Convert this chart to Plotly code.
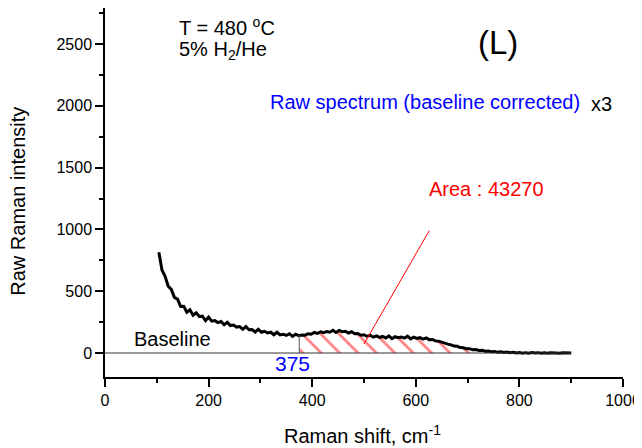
import plotly.graph_objects as go

# Raman spectrum (baseline corrected, x3)
shift = [104, 110, 116, 122, 128, 134, 140, 146, 152, 158, 164, 170, 176, 182, 188, 194,
         200, 206, 212, 218, 224, 230, 236, 242, 248, 254, 260, 266, 272, 278, 284, 290,
         296, 302, 308, 314, 320, 326, 332, 338, 344, 350, 356, 362, 368, 374, 380, 386,
         392, 398, 404, 410, 416, 422, 428, 434, 440, 446, 452, 458, 464, 470, 476, 482,
         488, 494, 500, 506, 512, 518, 524, 530, 536, 542, 548, 554, 560, 566, 572, 578,
         584, 590, 596, 602, 608, 614, 620, 626, 632, 638, 644, 650, 656, 662, 668, 674,
         680, 686, 692, 698, 704, 710, 716, 722, 728, 734, 740, 746, 752, 758, 764, 770,
         776, 782, 788, 794, 800, 806, 812, 818, 824, 830, 836, 842, 848, 854, 860, 866,
         872, 878, 884, 890, 896, 900]
intensity = [815, 672, 620, 540, 515, 450, 436, 376, 378, 330, 350, 306, 326, 296, 298, 262,
             290, 258, 262, 246, 255, 228, 248, 222, 226, 210, 214, 192, 214, 188, 190, 170,
             192, 168, 176, 162, 168, 148, 168, 146, 152, 142, 156, 134, 152, 140, 146, 144,
             156, 152, 166, 158, 172, 164, 174, 168, 184, 166, 182, 172, 176, 162, 172, 156,
             158, 144, 148, 134, 144, 128, 138, 126, 134, 122, 138, 116, 132, 124, 130, 120,
             136, 114, 128, 118, 124, 112, 122, 108, 110, 98, 96, 86, 82, 72, 66, 56,
             54, 44, 42, 34, 35, 26, 28, 20, 22, 15, 17, 11, 13, 7, 10, 5,
             8, 2, 6, 0, 4, -2, 3, -1, 4, 0, 3, -2, 2, -1, 3, 0,
             2, -1, 3, 0, 2, 0]

area_start = 375
area_start_y = 145
area_label = "Area : 43270"

area_x = [area_start] + [s for s in shift if s > area_start]
area_y = [area_start_y] + [v for s, v in zip(shift, intensity) if s > area_start]

FONT = "Arial, Liberation Sans, sans-serif"

fig = go.Figure()

# hatched integrated area
fig.add_trace(go.Scatter(x=area_x, y=area_y, mode="lines", line=dict(width=0),
                         fill="tozeroy", fillcolor="rgba(0,0,0,0)",
                         fillpattern=dict(shape="\\", fgcolor="red", size=13, solidity=0.2),
                         showlegend=False, hoverinfo="skip"))

# spectrum
fig.add_trace(go.Scatter(x=shift, y=intensity, mode="lines",
                         line=dict(color="black", width=3), showlegend=False))

# baseline and markers
fig.add_shape(type="line", x0=0, x1=900, y0=0, y1=0, line=dict(color="#333333", width=1))
fig.add_shape(type="line", x0=area_start, x1=area_start, y0=0, y1=area_start_y,
              line=dict(color="#555555", width=1))
fig.add_shape(type="line", x0=500, x1=626, y0=73, y1=990, line=dict(color="red", width=1))

def note(x, y, text, color="black", size=20, xanchor="left"):
    fig.add_annotation(x=x, y=y, text=text, showarrow=False, xanchor=xanchor, yanchor="middle",
                       font=dict(family=FONT, size=size, color=color))

note(139, 2645, "T = 480 <sup>o</sup>C")
note(139, 2444, "5% H<sub>2</sub>/He")
note(759, 2508, "(L)", size=33, xanchor="center")
note(314, 2032, "Raw spectrum (baseline corrected)", color="blue")
note(935, 2016, "x3")
note(622, 1323, area_label, color="red")
note(53, 113, "Baseline")
note(361, -81, str(area_start), color="blue", size=21, xanchor="center")

# axis titles placed as annotations
fig.add_annotation(xref="paper", x=0, xshift=-87, y=1224, text="Raw Raman intensity",
                   textangle=-90, showarrow=False, xanchor="center", yanchor="middle",
                   font=dict(family=FONT, size=20, color="black"))
fig.add_annotation(x=497, yref="paper", y=0, yshift=-57, text="Raman shift, cm<sup>-1</sup>",
                   showarrow=False, xanchor="center", yanchor="middle",
                   font=dict(family=FONT, size=20, color="black"))

axis_common = dict(showline=True, linecolor="black", linewidth=1.5, ticks="outside",
                   ticklen=8, tickwidth=1.5, tickcolor="black", showgrid=False, zeroline=False,
                   automargin=False,
                   tickfont=dict(family=FONT, size=16, color="black"))

fig.update_xaxes(range=[0, 1000], tickvals=[0, 200, 400, 600, 800, 1000],
                 minor=dict(ticks="outside", ticklen=4, tickwidth=1.5, tickcolor="black", dtick=100),
                 **axis_common)
fig.update_yaxes(range=[-194, 2791], tickvals=[0, 500, 1000, 1500, 2000, 2500],
                 minor=dict(ticks="outside", ticklen=4, tickwidth=1.5, tickcolor="black", dtick=250),
                 **axis_common)

# the page body adds an 8px offset, so the figure is 8px smaller each way
fig.update_layout(width=634, height=440, plot_bgcolor="white", paper_bgcolor="white",
                  margin=dict(l=97, r=19, t=0, b=71))

fig.write_html("out.html")
